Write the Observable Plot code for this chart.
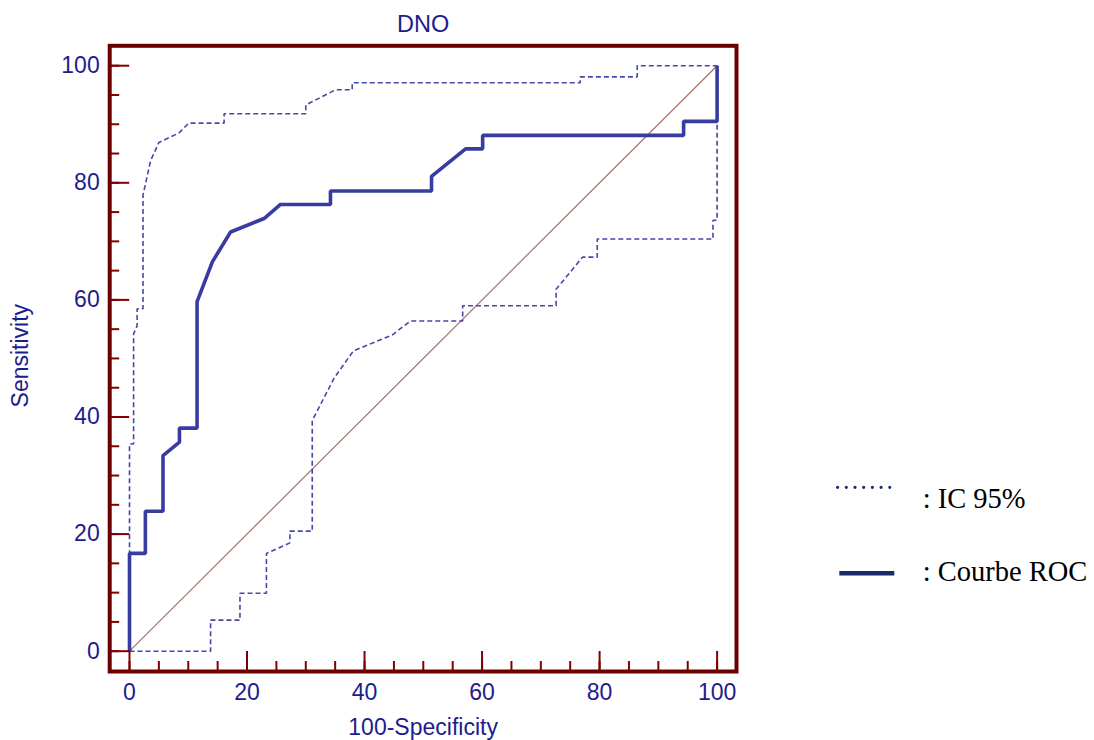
<!DOCTYPE html>
<html>
<head>
<meta charset="utf-8">
<script src="https://cdn.jsdelivr.net/npm/d3@7"></script>
<script src="https://cdn.jsdelivr.net/npm/@observablehq/plot@0.6"></script>
<style>
  html, body { margin: 0; padding: 0; background: #fff; }
  #wrap { position: relative; width: 1094px; height: 740px; }
  #legend { position: absolute; left: 0; top: 0; pointer-events: none; }
</style>
</head>
<body>
<div id="wrap"></div>
<script>
// ROC curve (100-Specificity, Sensitivity)
const rocX = [0, 0, 2.7, 2.7, 5.7, 5.7, 8.5, 8.5, 11.5, 11.5, 14.1, 17.2, 22.9, 25.7, 34.2, 34.2, 51.4, 51.4, 57.2, 60.1, 60.1, 94.3, 94.3, 100, 100];
const rocY = [0, 16.7, 16.7, 23.9, 23.9, 33.4, 35.7, 38.1, 38.1, 59.7, 66.5, 71.6, 73.9, 76.3, 76.3, 78.6, 78.6, 81.1, 85.8, 85.8, 88.1, 88.1, 90.5, 90.5, 100];

// Upper 95% CI bound
const upperX = [0, 0, 0.7, 0.7, 1.3, 1.3, 2.3, 2.3, 3.6, 5.0, 8.4, 10.1, 16.1, 16.1, 30.0, 30.0, 35.1, 37.9, 37.9, 76.7, 76.7, 86.4, 86.4, 100];
const upperY = [0, 35.4, 35.4, 54.2, 55.6, 58.5, 58.5, 77.9, 83.8, 86.9, 88.5, 90.2, 90.2, 91.8, 91.8, 93.3, 95.9, 95.9, 97.1, 97.1, 98.1, 98.1, 100, 100];

// Lower 95% CI bound
const lowerX = [0, 13.8, 13.8, 18.8, 18.8, 23.3, 23.3, 27.3, 27.3, 31.1, 31.1, 34.8, 38.1, 44.7, 47.8, 56.7, 56.7, 72.6, 72.6, 77.1, 79.6, 79.6, 99.3, 99.3, 100, 100];
const lowerY = [0, 0, 5.3, 5.3, 9.9, 9.9, 16.7, 18.5, 20.5, 20.5, 39.4, 46.6, 51.3, 54.0, 56.4, 56.4, 59.0, 59.0, 61.8, 67.3, 67.3, 70.4, 70.4, 73.6, 73.6, 100];

// Reference diagonal
const diagonal = [0, 100];

// Ticks
const majorTicks = [0, 20, 40, 60, 80, 100];
const minorTicks = [0, 5, 10, 15, 20, 25, 30, 35, 40, 45, 50, 55, 60, 65, 70, 75, 80, 85, 90, 95, 100];

const title = "DNO";
const xLabel = "100-Specificity";
const yLabel = "Sensitivity";
const legendItems = [": IC 95%", ": Courbe ROC"];

const toPts = (xs, ys) => xs.map((x, i) => ({x, y: ys[i]}));
const roc = toPts(rocX, rocY);
const upper = toPts(upperX, upperY);
const lower = toPts(lowerX, lowerY);

const navy = "#1c1c8e";
const frameRed = "#6b0000";
const tickRed = "#800000";
const font = "'Liberation Sans', Arial, sans-serif";

const chart = Plot.plot({
  width: 1094,
  height: 740,
  marginLeft: 109.2,
  marginRight: 358,
  marginTop: 45.3,
  marginBottom: 69,
  style: {fontFamily: font, fontSize: "23px", color: navy, background: "white"},
  x: {domain: [-3.37, 103.3], label: null},
  y: {domain: [-3.47, 103.4], label: null},
  marks: [
    Plot.line(diagonal, {x: d => d, y: d => d, stroke: "#a87272", strokeWidth: 1.2}),
    Plot.line(upper, {x: "x", y: "y", stroke: "#4549a8", strokeWidth: 1.6, strokeDasharray: "5,3", strokeLinecap: "butt", strokeLinejoin: "miter"}),
    Plot.line(lower, {x: "x", y: "y", stroke: "#4549a8", strokeWidth: 1.6, strokeDasharray: "5,3", strokeLinecap: "butt", strokeLinejoin: "miter"}),
    Plot.line(roc, {x: "x", y: "y", stroke: "#383ca0", strokeWidth: 3.6, strokeLinejoin: "miter", strokeLinecap: "butt"}),
    // inward minor ticks
    Plot.axisX({ticks: minorTicks, anchor: "bottom", tickSize: -10, tickFormat: () => "", stroke: tickRed, strokeWidth: 2, label: null}),
    Plot.axisY({ticks: minorTicks, anchor: "left", tickSize: -10, tickFormat: () => "", stroke: tickRed, strokeWidth: 2, label: null}),
    // inward major ticks
    Plot.axisX({ticks: majorTicks, anchor: "bottom", tickSize: -20, tickFormat: () => "", stroke: tickRed, strokeWidth: 2, label: null}),
    Plot.axisY({ticks: majorTicks, anchor: "left", tickSize: -20, tickFormat: () => "", stroke: tickRed, strokeWidth: 2, label: null}),
    // tick labels
    Plot.axisX({ticks: majorTicks, anchor: "bottom", tickSize: 0, tickPadding: 12, fill: navy, fontSize: 23, label: null}),
    Plot.axisY({ticks: majorTicks, anchor: "left", tickSize: 0, tickPadding: 10, fill: navy, fontSize: 23, label: null}),
    Plot.frame({stroke: frameRed, strokeWidth: 4}),
    Plot.text([title], {text: d => d, frameAnchor: "top", textAnchor: "middle", lineAnchor: "top", dy: -30.3, fill: navy, fontSize: 23.5}),
    Plot.text([xLabel], {text: d => d, frameAnchor: "bottom", textAnchor: "middle", lineAnchor: "top", dy: 47.3, fill: navy, fontSize: 23}),
    Plot.text([yLabel], {text: d => d, frameAnchor: "left", textAnchor: "middle", lineAnchor: "middle", rotate: -90, dx: -88.8, dy: -3, fill: navy, fontSize: 23})
  ]
});

const wrap = document.getElementById("wrap");
wrap.appendChild(chart);

// Legend (to the right of the plot)
const legendNavy = "#1b2a6b";
const lg = d3.select(wrap).append("svg")
  .attr("id", "legend")
  .attr("width", 1094).attr("height", 740);

lg.append("line")
  .attr("x1", 837.6).attr("x2", 889.8).attr("y1", 487.3).attr("y2", 487.3)
  .attr("stroke", legendNavy).attr("stroke-width", 3.2)
  .attr("stroke-linecap", "round").attr("stroke-dasharray", "0 8.7");
lg.append("line")
  .attr("x1", 839.3).attr("x2", 894.3).attr("y1", 573.3).attr("y2", 573.3)
  .attr("stroke", legendNavy).attr("stroke-width", 4.5);

lg.selectAll("text.item").data(legendItems).join("text")
  .attr("class", "item")
  .attr("x", 922.7)
  .attr("y", (d, i) => i === 0 ? 508.3 : 580.7)
  .attr("font-family", "'Liberation Serif', 'Times New Roman', serif")
  .attr("font-size", 28.5)
  .attr("fill", "#000")
  .text(d => d);
</script>
</body>
</html>
